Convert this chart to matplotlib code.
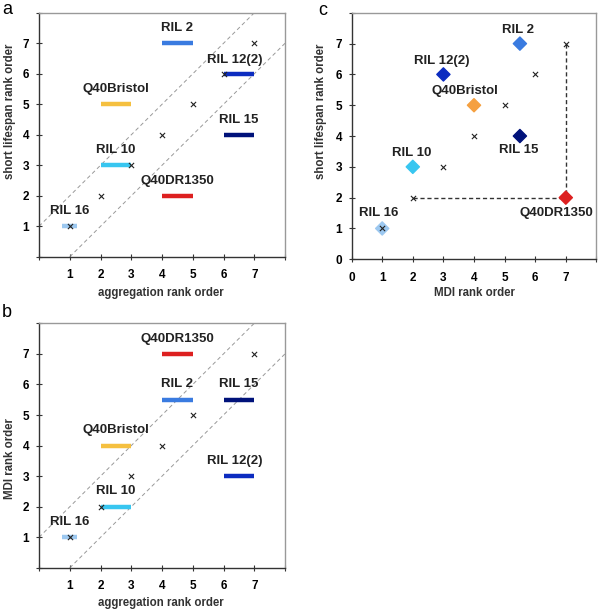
import matplotlib.pyplot as plt

plt.rcParams['font.family'] = ['Liberation Sans', 'DejaVu Sans']

# rank data
names = ['RIL 2', 'RIL 12(2)', 'Q40Bristol', 'RIL 15', 'RIL 10', 'Q40DR1350', 'RIL 16']
colors = ['#3a7be0', '#0c2cc0', '#f5c040', '#00127a', '#38c6f0', '#dd2020', '#9cc8f0']
diamond_colors = ['#3a7be0', '#0c2cc0', '#f5a040', '#00127a', '#38c6f0', '#dd2020', '#9cc8f0']

# panel a: aggregation rank range (start, end) vs short lifespan rank
agg_lo = [4, 6, 2, 6, 2, 4, 0.75]
agg_hi = [5, 7, 3, 7, 3, 5, 1.25]
short_rank = [7, 6, 5, 4, 3, 2, 1]

# panel b: MDI rank
mdi_rank = [5.5, 3, 4, 5.5, 2, 7, 1]

# label positions (x, y)
lab_a = [(4.5, 7.5), (6.35, 6.45), (2.5, 5.5), (6.5, 4.5), (2.5, 3.5), (4.5, 2.5), (1.0, 1.5)]
lab_b = [(4.5, 6.0), (6.35, 3.5), (2.5, 4.5), (6.5, 6.0), (2.5, 2.5), (4.5, 7.5), (1.0, 1.5)]
lab_c = [(5.45, 7.45), (2.95, 6.45), (3.7, 5.45), (5.45, 3.55), (1.95, 3.45), (6.7, 1.5), (0.9, 1.5)]

diag = [1, 2, 3, 4, 5, 6, 7]
diag_b = [1, 2, 3, 4, 5, 7]

fig = plt.figure(figsize=(6, 6.1), dpi=100)
ax_a = fig.add_axes([0.065, 0.579, 0.41, 0.40])
ax_b = fig.add_axes([0.065, 0.069, 0.41, 0.401])
ax_c = fig.add_axes([0.586, 0.575, 0.408, 0.404])

txt = dict(fontsize=9.5, fontweight='bold', color='#222222', ha='center', va='center')


def style(ax, xlabel, ylabel, show_zero, xlab_pos, ylab_pos):
    ax.set_xlim(0, 8)
    ax.set_ylim(0, 8)
    ax.set_xticks(range(0, 9))
    ax.set_yticks(range(0, 9))
    if show_zero:
        xl = [str(i) for i in range(0, 8)] + ['']
        yl = [str(i) for i in range(0, 8)] + ['']
    else:
        xl = [''] + [str(i) for i in range(1, 8)] + ['']
        yl = [''] + [str(i) for i in range(1, 8)] + ['']
    ax.set_xticklabels(xl, fontweight='bold', fontsize=8.5)
    ax.set_yticklabels(yl, fontweight='bold', fontsize=8.5)
    ax.tick_params(direction='inout', length=4, width=0.8, color='#333333')
    ax.tick_params(axis='x', pad=7)
    ax.tick_params(axis='y', pad=5)
    for s in ['left', 'bottom']:
        ax.spines[s].set_color('#333333')
        ax.spines[s].set_linewidth(1.0)
    for s in ['top', 'right']:
        ax.spines[s].set_color('#999999')
        ax.spines[s].set_linewidth(1.0)
    ax.set_xlabel(xlabel, fontweight='bold', fontsize=8.3, color='#333333', va='center')
    ax.set_ylabel(ylabel, fontweight='bold', fontsize=8.3, color='#333333', va='center')
    ax.xaxis.set_label_coords(*xlab_pos)
    ax.yaxis.set_label_coords(*ylab_pos)


def guides(ax):
    ax.plot([0, 7], [1, 8], ls='--', color='#999999', lw=0.7, dashes=(4, 3))
    ax.plot([1, 8], [0, 7], ls='--', color='#999999', lw=0.7, dashes=(4, 3))


# panel a
guides(ax_a)
ax_a.scatter(diag, diag, marker='x', color='#222222', s=14, lw=0.8, zorder=3)
for i in range(len(names)):
    ax_a.plot([agg_lo[i], agg_hi[i]], [short_rank[i], short_rank[i]], color=colors[i], lw=3.2,
              solid_capstyle='butt', zorder=2)
    ax_a.text(lab_a[i][0], lab_a[i][1], names[i], **txt)
style(ax_a, 'aggregation rank order', 'short lifespan rank order', False,
      (0.496, -0.148), (-0.118, 0.596))

# panel b
guides(ax_b)
ax_b.scatter(diag_b, diag_b, marker='x', color='#222222', s=14, lw=0.8, zorder=3)
for i in range(len(names)):
    ax_b.plot([agg_lo[i], agg_hi[i]], [mdi_rank[i], mdi_rank[i]], color=colors[i], lw=3.2,
              solid_capstyle='butt', zorder=2)
    ax_b.text(lab_b[i][0], lab_b[i][1], names[i], **txt)
style(ax_b, 'aggregation rank order', 'MDI rank order', False,
      (0.496, -0.143), (-0.118, 0.445))

# panel c
ax_c.plot([7, 7], [7, 2], ls='--', color='#333333', lw=1.0, dashes=(3, 2))
ax_c.plot([2, 7], [2, 2], ls='--', color='#333333', lw=1.0, dashes=(3, 2))
ax_c.scatter(mdi_rank, short_rank, marker='D', c=diamond_colors, s=45, zorder=3)
ax_c.scatter(diag, diag, marker='x', color='#222222', s=14, lw=0.8, zorder=4)
for i in range(len(names)):
    ax_c.text(lab_c[i][0], lab_c[i][1], names[i], **txt)
style(ax_c, 'MDI rank order', 'short lifespan rank order', True,
      (0.503, -0.138), (-0.127, 0.60))

fig.text(0.003, 0.985, 'a', fontsize=13, va='center')
fig.text(0.003, 0.488, 'b', fontsize=13, va='center')
fig.text(0.53, 0.983, 'c', fontsize=13, va='center')

fig.savefig('out.png', dpi=100)
